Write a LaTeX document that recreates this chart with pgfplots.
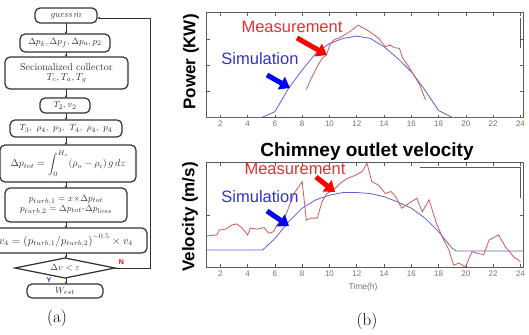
\documentclass[border=0pt]{standalone}
\usepackage{pgfplots}
\pgfplotsset{compat=1.18}
\usepackage{fontspec}
\setsansfont{Liberation Sans}
\usetikzlibrary{arrows.meta}
\definecolor{simc}{RGB}{95,95,215}
\definecolor{measc}{RGB}{205,90,90}
\definecolor{labred}{RGB}{225,50,50}
\definecolor{labblue}{RGB}{50,50,200}
\definecolor{axc}{RGB}{90,90,90}
\definecolor{tickc}{RGB}{115,115,115}
\definecolor{fcc}{RGB}{50,50,50}
\pgfplotsset{myax/.style={scale only axis, anchor=south west, width=316.5pt,
  xmin=1, xmax=24.2, xtick={2,4,...,24}, tick align=inside, major tick length=3pt,
  tick style={axc, line width=0.6pt}, axis line style={axc, line width=0.8pt},
  ticklabel style={font=\sffamily\fontsize{8}{9}\selectfont, text=tickc},
  /pgf/number format/assume math mode=true, yticklabels={},
  every axis plot/.append style={line width=0.8pt}}}
\newcommand{\fcbox}[4]{\draw[rounded corners=5pt, line width=1.2pt, fcc] (#1,#2) rectangle (#3,#4);}
\begin{document}
\begin{tikzpicture}
\useasboundingbox (0,0) rectangle (529pt,-334pt);
% ---------- top plot
\begin{axis}[myax, at={(206.7pt,-117.7pt)}, height=105pt, ymin=0, ymax=4, ytick={1,2,3}]
\addplot[simc] coordinates {(1,0)(2,0)(3,0)(4,0)(5,0)(6,0.23)(7,1.12)(8,1.82)(9,2.45)(10,2.83)(11,3.02)(12,3.11)(13,3.02)(14,2.7)(15,2.26)(16,1.75)(17,1.05)(18,0.27)(19,0.01)(20,0)(21,0)(22,0)(23,0)(24,0)(24.2,0)};
\addplot[measc] coordinates {(8.31,1.08)(8.6,1.43)(9.09,1.94)(9.46,2.26)(9.78,2.39)(10.02,2.77)(10.31,2.96)(10.8,3.06)(11.29,3.21)(11.73,3.37)(12.1,3.53)(12.39,3.44)(12.76,3.34)(13.12,3.21)(13.61,3.02)(14.1,2.7)(14.42,2.77)(14.76,2.67)(15.13,2.64)(15.37,2.26)(15.74,2.0)(16.18,1.63)(16.62,1.24)(17.04,0.67)};
\end{axis}
% ---------- bottom plot
\begin{axis}[myax, at={(206.7pt,-267.3pt)}, height=104.6pt, ymin=0, ymax=2, ytick={1}]
\addplot[simc] coordinates {(1,0.33)(5.1,0.33)(6,0.55)(7,0.87)(8,1.13)(9,1.29)(10,1.38)(11,1.43)(12,1.43)(13,1.41)(14,1.35)(15,1.25)(16,1.13)(17,0.94)(18,0.68)(19,0.36)(19.3,0.31)(24.2,0.31)};
\addplot[measc] coordinates {(1.0,0.6)(1.75,0.62)(1.9,0.71)(2.4,0.73)(2.85,0.81)(3.2,0.83)(3.6,0.75)(4.0,0.62)(4.2,0.75)(4.7,0.73)(5.2,0.76)(5.55,0.65)(5.9,0.68)(6.15,0.81)(6.8,1.0)(7.4,1.41)(8.0,1.64)(8.3,0.9)(8.6,0.94)(9.1,0.94)(9.45,1.25)(9.8,1.41)(10.3,1.48)(10.8,1.61)(11.3,1.70)(11.9,1.76)(12.4,1.83)(12.75,1.99)(13.1,1.64)(13.6,1.57)(14.1,1.41)(14.5,1.45)(14.85,1.35)(15.3,1.13)(15.8,1.22)(16.4,1.32)(16.8,1.06)(17.3,1.29)(17.8,0.87)(18.25,0.59)(18.75,0.33)(19.1,0.04)(19.5,0.08)(19.95,0.0)(20.45,0.30)(20.8,0.27)(21.3,0.24)(21.7,0.52)(22.4,0.62)(22.9,0.39)(23.5,0.20)(24.0,0.11)};
\end{axis}
\begin{scope}[x=1pt,y=-1pt]
% plot annotations
\node[rotate=90, font=\sffamily\bfseries\fontsize{17}{18}\selectfont] at (191,62) {Power (KW)};
\node[rotate=90, font=\sffamily\bfseries\fontsize{17}{18}\selectfont] at (190,217) {Velocity (m/s)};
\node[font=\sffamily\bfseries\fontsize{19}{20}\selectfont] at (367,152) {Chimney outlet velocity};
\node[font=\sffamily\fontsize{8.5}{9}\selectfont, text=tickc] at (363,287) {Time(h)};
\node[font=\sffamily\fontsize{16.5}{17}\selectfont, text=labred] at (292,27) {Measurement};
\node[font=\sffamily\fontsize{16.5}{17}\selectfont, text=labblue] at (260,59) {Simulation};
\node[font=\sffamily\fontsize{16.5}{17}\selectfont, text=labred] at (295,169) {Measurement};
\node[font=\sffamily\fontsize{16.5}{17}\selectfont, text=labblue] at (260,197) {Simulation};
\draw[red, line width=5pt, -{Triangle[width=14pt,length=10pt]}] (297,38) -- (327,55);
\draw[blue, line width=5pt, -{Triangle[width=14pt,length=10pt]}] (267,75) -- (290,88);
\draw[red, line width=5pt, -{Triangle[width=14pt,length=10pt]}] (316,177) -- (335,192);
\draw[blue, line width=5pt, -{Triangle[width=14pt,length=10pt]}] (267,211) -- (289,226);
\draw[axc, line width=0.9pt] (520,18) -- (520,48);
\draw[axc, line width=0.9pt] (420,167) -- (520,167) -- (520,198);
% ---------- flowchart
\fcbox{35}{8}{97}{23}
\fcbox{20}{34}{110}{52}
\fcbox{5}{57}{128}{89}
\fcbox{40}{98}{90}{113}
\fcbox{10}{120}{122}{137}
\fcbox{0}{145}{136}{182}
\fcbox{5}{188}{127}{222}
\fcbox{-15}{228}{147}{253}
\fcbox{27}{284}{103}{298}
\draw[line width=1.2pt, fcc] (15,268) -- (65,258) -- (115,268) -- (65,278) -- cycle;
\foreach \a/\b in {23/34, 52/57, 89/98, 113/120, 137/145, 182/188, 222/228, 253/258, 278/284}
  \draw[fcc, line width=0.7pt, -{Stealth[length=2.5pt,width=2.5pt]}] (66,\a) -- (66,\b);
\draw[fcc, line width=0.7pt, -{Stealth[length=2.5pt,width=2.5pt]}] (115,268) -- (150,268) -- (150,18) -- (97.6,18);
\begin{scope}[every node/.style={text=fcc, font=\fontsize{9.5}{11}\selectfont}]
\node at (66,15.5) {\textit{guess}\,$\dot{m}$};
\node at (65,43) {$\Delta p_k, \Delta p_f, \Delta p_a, p_2$};
\node[align=center, font=\fontsize{10}{11}\selectfont] at (66.5,73) {Secionalized collector\\[-1pt] $T_c, T_a, T_g$};
\node at (65,105.5) {$T_2, v_2$};
\node at (66,128.5) {$T_3,\ \rho_4,\ p_3,\ T_4,\ \rho_4,\ p_4$};
\node[font=\fontsize{10}{11}\selectfont] at (68,163.5) {$\Delta p_{tot} = \displaystyle\int_0^{H_c} (\rho_o - \rho_i)\, g\, dz$};
\node[align=center] at (66,205) {$p_{turb,1} = x{\times}\Delta p_{tot}$\\[-1pt] $p_{turb,2} = \Delta p_{tot}\mbox{-}\Delta p_{loss}$};
\node[font=\fontsize{10.5}{12}\selectfont] at (66,240.5) {$v_4 = \bigl(p_{turb,1}/p_{turb,2}\bigr)^{-0.5} \times v_4$};
\node at (65,268) {$\Delta v < \varepsilon$};
\node at (65,291) {$W_{est}$};
\end{scope}
\node[text=red, font=\sffamily\bfseries\fontsize{7}{8}\selectfont] at (121.5,262) {N};
\node[text=labblue, font=\sffamily\bfseries\fontsize{7}{8}\selectfont] at (49,280) {Y};
\node[font=\fontsize{17}{19}\selectfont] at (57,318) {(a)};
\node[font=\fontsize{17}{19}\selectfont] at (367,321) {(b)};
\end{scope}
\end{tikzpicture}
\end{document}
